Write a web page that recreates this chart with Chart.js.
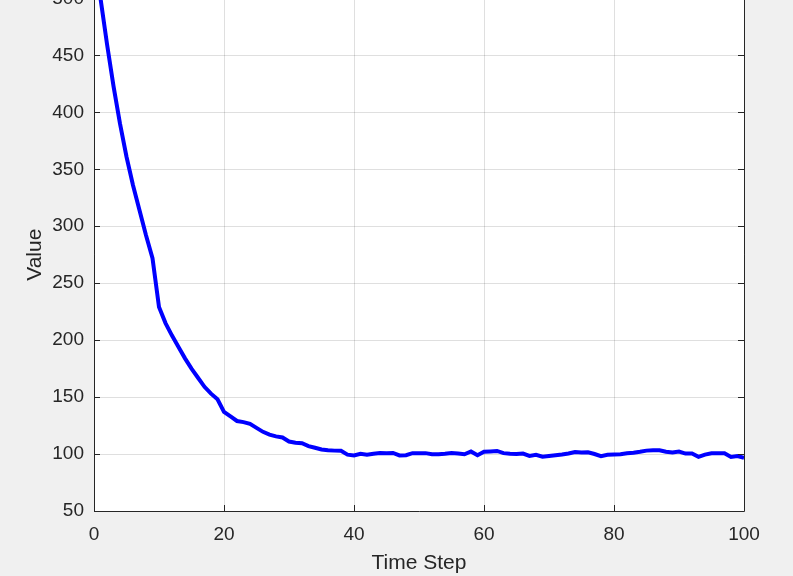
<!DOCTYPE html>
<html>
<head>
<meta charset="utf-8">
<script src="https://cdn.jsdelivr.net/npm/chart.js@4"></script>
<style>
  html, body { margin: 0; padding: 0; background: #f0f0f0; overflow: hidden; }
  #wrap { position: absolute; left: 0; top: -23px; width: 793px; height: 599px; }
</style>
</head>
<body>
<div id="wrap"><canvas id="chart"></canvas></div>
<script>
// values, one per time step (1..100)
const values = [
    500, 460, 423, 390, 361, 336, 314, 292, 272, 229,
    215, 204, 194, 184, 175, 167, 159, 153, 148, 137,
    133, 129, 128, 126.5, 123, 119.5, 117, 115.5, 114.5, 111,
    110, 109.5, 107, 105.5, 104, 103.3, 103, 102.8, 99.5, 98.8,
    100.3, 99.5, 100.3, 101, 100.8, 101, 98.8, 99, 100.8, 100.7,
    100.8, 99.8, 99.9, 100.3, 101, 100.4, 99.8, 102.3, 99, 102,
    102.3, 102.7, 100.8, 100.2, 100, 100.4, 98.4, 99.3, 97.6, 98.3,
    99, 99.6, 100.5, 101.8, 101.3, 101.5, 100, 98.2, 99.3, 99.6,
    99.8, 100.7, 101.2, 102, 103, 103.4, 103.3, 102, 101.3, 102.2,
    100.4, 100.4, 97.5, 99.5, 100.7, 100.7, 100.7, 97.4, 98.2, 96.6
];
const xTicks = [0, 20, 40, 60, 80, 100];
const yTicks = [50, 100, 150, 200, 250, 300, 350, 400, 450, 500];

const axisColor = "#262626";
const fontFamily = "'Liberation Sans', Arial, Helvetica, sans-serif";

// white plot box, inward ticks and axes outline like matlab
const boxPlugin = {
    id: "box",
    beforeDraw(chart) {
        const { ctx, chartArea: a } = chart;
        ctx.save();
        ctx.fillStyle = "#ffffff";
        ctx.fillRect(a.left, a.top, a.right - a.left, a.bottom - a.top);
        ctx.restore();
    },
    afterDatasetsDraw(chart) {
        const { ctx, chartArea: a, scales } = chart;
        ctx.save();
        ctx.strokeStyle = axisColor;
        ctx.lineWidth = 1;
        ctx.beginPath();
        xTicks.forEach(v => {
            const x = Math.round(scales.x.getPixelForValue(v)) + 0.5;
            ctx.moveTo(x, a.bottom);
            ctx.lineTo(x, a.bottom - 6);
        });
        yTicks.forEach(v => {
            const y = Math.round(scales.y.getPixelForValue(v)) + 0.5;
            ctx.moveTo(a.left, y);
            ctx.lineTo(a.left + 6, y);
            ctx.moveTo(a.right, y);
            ctx.lineTo(a.right - 6, y);
        });
        ctx.stroke();
        ctx.beginPath();
        ctx.moveTo(Math.round(a.left) + 0.5, a.top);
        ctx.lineTo(Math.round(a.left) + 0.5, Math.round(a.bottom) + 0.5);
        ctx.lineTo(Math.round(a.right) + 0.5, Math.round(a.bottom) + 0.5);
        ctx.lineTo(Math.round(a.right) + 0.5, a.top);
        ctx.stroke();
        ctx.restore();
    }
};

const ctx = document.getElementById("chart").getContext("2d");
new Chart(ctx, {
    type: "line",
    data: {
        datasets: [{
            label: "Value",
            data: values.map((v, i) => ({ x: i + 1, y: v })),
            borderColor: "#0000ff",
            borderWidth: 4,
            pointRadius: 0,
            tension: 0,
            fill: false
        }]
    },
    options: {
        animation: false,
        responsive: true,
        maintainAspectRatio: false,
        layout: {
            padding: { top: 17, right: 49, left: 0, bottom: 0 }
        },
        plugins: {
            legend: { display: false },
            tooltip: { enabled: false }
        },
        scales: {
            x: {
                type: "linear",
                min: 0,
                max: 100,
                afterBuildTicks: scale => { scale.ticks = xTicks.map(v => ({ value: v })); },
                afterFit: scale => { scale.height = 65; },
                grid: { color: "rgba(38,38,38,0.15)", drawTicks: false },
                border: { display: false },
                ticks: {
                    color: axisColor,
                    padding: 12,
                    maxRotation: 0,
                    font: { family: fontFamily, size: 19 }
                },
                title: {
                    display: true,
                    text: "Time Step",
                    color: axisColor,
                    padding: { top: 0, bottom: 0 },
                    font: { family: fontFamily, size: 21 }
                }
            },
            y: {
                type: "linear",
                min: 50,
                max: 500,
                afterBuildTicks: scale => { scale.ticks = yTicks.map(v => ({ value: v })); },
                afterFit: scale => { scale.width = 94; },
                grid: { color: "rgba(38,38,38,0.15)", drawTicks: false },
                border: { display: false },
                ticks: {
                    color: axisColor,
                    padding: 10,
                    font: { family: fontFamily, size: 19 }
                },
                title: {
                    display: true,
                    text: "Value",
                    color: axisColor,
                    padding: { top: 23, bottom: 0 },
                    font: { family: fontFamily, size: 21 }
                }
            }
        }
    },
    plugins: [boxPlugin]
});
</script>
</body>
</html>
